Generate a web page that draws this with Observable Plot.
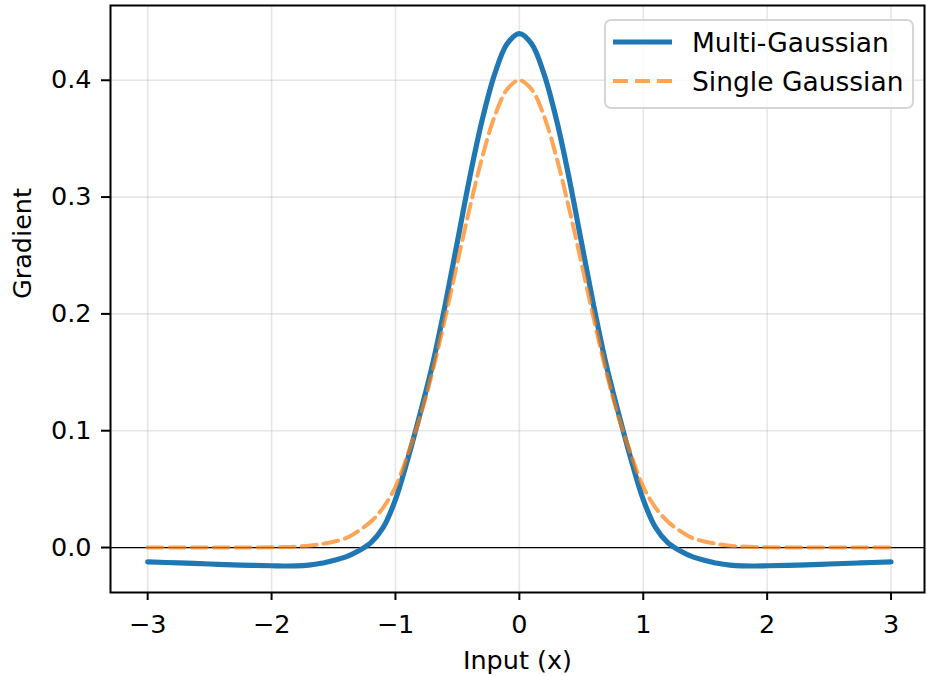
<!DOCTYPE html>
<html>
<head>
<meta charset="utf-8">
<script src="https://cdn.jsdelivr.net/npm/d3@7"></script>
<script src="https://cdn.jsdelivr.net/npm/@observablehq/plot@0.6"></script>
<style>
  html, body { margin: 0; padding: 0; background: #ffffff; }
  #chart svg { display: block; background: #ffffff; }
</style>
</head>
<body>
<div id="chart"></div>
<script>
// ---- Data ----
const xValues = [-3, -2.75, -2.5, -2.25, -2, -1.9, -1.8, -1.7, -1.6, -1.5, -1.4, -1.3, -1.2, -1.1, -1, -0.9, -0.8, -0.7, -0.6, -0.5, -0.4, -0.3, -0.2, -0.1,
  0,
  0.1, 0.2, 0.3, 0.4, 0.5, 0.6, 0.7, 0.8, 0.9, 1, 1.1, 1.2, 1.3, 1.4, 1.5, 1.6, 1.7, 1.8, 1.9, 2, 2.25, 2.5, 2.75, 3];

const multiGaussian = [-0.0123, -0.0132, -0.0141, -0.0150, -0.0156, -0.0158, -0.0157, -0.0150, -0.0135, -0.0110, -0.0080, -0.0030, 0.004, 0.017, 0.041, 0.076, 0.115, 0.157, 0.207, 0.262, 0.317, 0.366, 0.405, 0.431,
  0.440,
  0.431, 0.405, 0.366, 0.317, 0.262, 0.207, 0.157, 0.115, 0.076, 0.041, 0.017, 0.004, -0.0030, -0.0080, -0.0110, -0.0135, -0.0150, -0.0157, -0.0158, -0.0156, -0.0150, -0.0141, -0.0132, -0.0123];

const singleGaussian = [0, 0, 0, 0, 0.0002, 0.0004, 0.0008, 0.0015, 0.003, 0.005, 0.008, 0.014, 0.022, 0.034, 0.052, 0.080, 0.112, 0.151, 0.196, 0.244, 0.291, 0.334, 0.369, 0.392,
  0.400,
  0.392, 0.369, 0.334, 0.291, 0.244, 0.196, 0.151, 0.112, 0.080, 0.052, 0.034, 0.022, 0.014, 0.008, 0.005, 0.003, 0.0015, 0.0008, 0.0004, 0.0002, 0, 0, 0, 0];

const xTicks = [-3, -2, -1, 0, 1, 2, 3];
const yTicks = [0, 0.1, 0.2, 0.3, 0.4];
const seriesNames = ["Multi-Gaussian", "Single Gaussian"];
const xLabel = "Input (x)";
const yLabel = "Gradient";

// ---- Styles ----
const FONT = "DejaVu Sans, Liberation Sans, sans-serif";
const FS = 25.5;
const LFS = 26.5;
const BLUE = "#1f77b4";
const ORANGE = "#ff7f0e";
const GRID = { stroke: "#b0b0b0", strokeOpacity: 0.32, strokeWidth: 1.6 };

const minusFmt = d => d < 0 ? "\u2212" + (-d) : String(d);

const chart = Plot.plot({
  width: 927,
  height: 676,
  marginLeft: 110,
  marginRight: 3,
  marginTop: 5,
  marginBottom: 84,
  style: { fontFamily: FONT, fontSize: FS + "px", background: "#ffffff", color: "#000000" },
  x: { domain: [-3.3, 3.27] },
  y: { domain: [-0.0385, 0.464] },
  marks: [
    Plot.gridX(xTicks, GRID),
    Plot.gridY(yTicks, GRID),
    Plot.ruleY([0], { stroke: "#000000", strokeWidth: 1.3 }),
    Plot.line(xValues, { x: xValues, y: multiGaussian, stroke: BLUE, strokeWidth: 5.2, curve: "catmull-rom" }),
    Plot.line(xValues, { x: xValues, y: singleGaussian, stroke: ORANGE, strokeOpacity: 0.7, strokeWidth: 4, strokeDasharray: "15,7", curve: "catmull-rom" }),
    Plot.frame({ stroke: "#000000", strokeWidth: 2 }),
    Plot.axisX({ ticks: xTicks, tickFormat: minusFmt, tickSize: 8, tickPadding: 14, strokeWidth: 2, label: null, fontSize: FS }),
    Plot.axisY({ ticks: yTicks, tickFormat: d3.format(".1f"), tickSize: 9, tickPadding: 10, strokeWidth: 2, label: null, fontSize: FS }),
    Plot.text([xLabel], { frameAnchor: "bottom", dy: 76, lineAnchor: "bottom", text: d => d, fontSize: FS }),
    Plot.text([yLabel], { frameAnchor: "left", dx: -80, rotate: -90, lineAnchor: "bottom", text: d => d, fontSize: FS })
  ]
});

document.getElementById("chart").appendChild(chart);

// ---- Legend (matplotlib-style box, upper right) ----
const svg = d3.select(chart);
const lg = svg.append("g")
  .attr("font-family", FONT)
  .attr("font-size", LFS + "px")
  .attr("text-anchor", "start");
lg.append("rect")
  .attr("x", 605).attr("y", 20).attr("width", 308).attr("height", 88)
  .attr("rx", 6).attr("ry", 6)
  .attr("fill", "#ffffff").attr("fill-opacity", 0.8)
  .attr("stroke", "#d5d5d5").attr("stroke-width", 2);
lg.append("line").attr("x1", 613).attr("x2", 672).attr("y1", 42).attr("y2", 42)
  .attr("stroke", BLUE).attr("stroke-width", 5.2);
lg.append("line").attr("x1", 613).attr("x2", 672).attr("y1", 81).attr("y2", 81)
  .attr("stroke", ORANGE).attr("stroke-opacity", 0.7).attr("stroke-width", 4)
  .attr("stroke-dasharray", "15,7");
lg.append("text").attr("x", 692).attr("y", 51.5).attr("fill", "#000").attr("text-anchor", "start").text(seriesNames[0]);
lg.append("text").attr("x", 692).attr("y", 91).attr("fill", "#000").attr("text-anchor", "start").text(seriesNames[1]);
</script>
</body>
</html>
